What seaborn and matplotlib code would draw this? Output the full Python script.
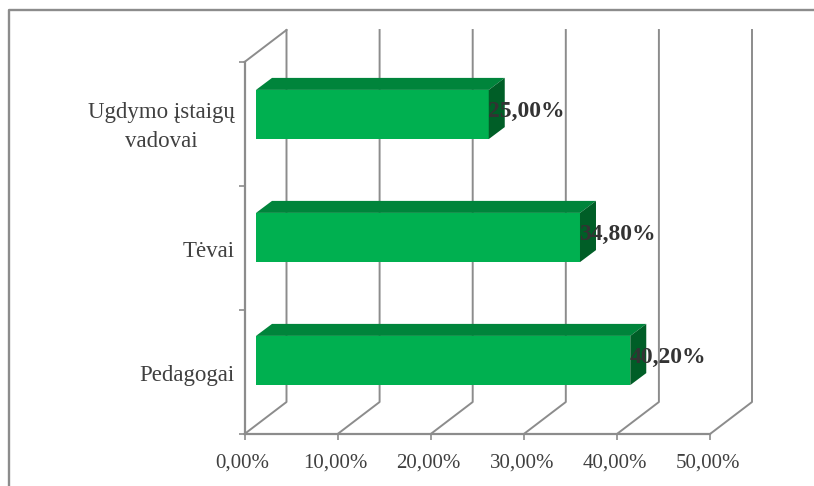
import matplotlib
matplotlib.use('Agg')
import matplotlib.pyplot as plt
import matplotlib.transforms as mtrans
import pandas as pd
import seaborn as sns
from matplotlib.patches import Polygon

categories = ['Ugdymo įstaigų\nvadovai', 'Tėvai', 'Pedagogai']
values = [25.0, 34.8, 40.2]
value_labels = ['25,00%', '34,80%', '40,20%']
x_ticks = [0, 10, 20, 30, 40, 50]
x_tick_labels = ['0,00%', '10,00%', '20,00%', '30,00%', '40,00%', '50,00%']

W, H = 814, 486
GREY = '#8c8c8c'
TEXT = '#404040'
# pseudo 3d offsets in pixels
DEPTH_X, DEPTH_Y = 42, 32
SIDE_X, SIDE_Y = 16, 12

plt.rcParams['font.family'] = ['Liberation Serif', 'DejaVu Serif']

def axes_box(left, top, right, bottom):
    return [left / W, 1 - bottom / H, (right - left) / W, (bottom - top) / H]

fig = plt.figure(figsize=(W / 100, H / 100), dpi=100)
# outer frame only shows on the top and left
fig.add_artist(plt.Line2D([9 / W, 9 / W, 1], [0, 1 - 10 / H, 1 - 10 / H], color=GREY, linewidth=1.7))

# front plane, holds the axis lines and labels
ax = fig.add_axes(axes_box(244.5, 62, 710, 434))
ax.patch.set_alpha(0)
ax.set_xlim(0, 50)
ax.set_ylim(len(categories), 0)
for s in ['top', 'right']:
    ax.spines[s].set_visible(False)
for s in ['left', 'bottom']:
    ax.spines[s].set_color(GREY)
    ax.spines[s].set_linewidth(1.6)
ax.set_xticks(x_ticks, x_tick_labels, fontsize=15, color=TEXT)
ax.set_yticks(range(len(categories) + 1), [''] * (len(categories) + 1))
ax.tick_params(axis='both', color=GREY, width=1.2, length=4)
ax.tick_params(axis='x', pad=10)
shift = mtrans.Affine2D().translate(-2, 0)
for lab in ax.get_xticklabels():
    lab.set_transform(lab.get_transform() + shift)
for i, c in enumerate(categories):
    ax.annotate(c, (0, i + 0.5), xytext=(-10, -3), textcoords='offset pixels', ha='right',
                multialignment='center', va='center', fontsize=16.5, color=TEXT, linespacing=1.5,
                annotation_clip=False)

# floor lines and back wall
for t in x_ticks:
    px, py = ax.transData.transform((t, len(categories)))
    bx, by = px + DEPTH_X, py + DEPTH_Y
    top = ax.transData.transform((t, 0))[1] + DEPTH_Y
    fig.add_artist(plt.Line2D([px / W, bx / W, bx / W], [py / H, by / H, top / H], color=GREY,
                              linewidth=1.4, zorder=-1))
px, py = ax.transData.transform((0, 0))
fig.add_artist(plt.Line2D([px / W, (px + DEPTH_X) / W], [py / H, (py + DEPTH_Y) / H], color=GREY,
                          linewidth=1.4, zorder=-1))

# bars sit a little behind the front plane
bar_ax = fig.add_axes(axes_box(256, 53, 721.5, 422))
bar_ax.axis('off')
df = pd.DataFrame({'group': categories, 'value': values})
sns.barplot(data=df, x='value', y='group', order=categories, color='#00b050', saturation=1,
            width=0.4, ax=bar_ax, zorder=3)
bar_ax.set_xlim(0, 50)
bar_ax.set_ylim(len(categories) - 0.5, -0.5)

for bar, label in zip(list(bar_ax.patches), value_labels):
    (x0, y0), (x1, y1) = bar_ax.transData.transform(bar.get_bbox().get_points())
    y0, y1 = min(y0, y1), max(y0, y1)
    top_face = [(x0, y1), (x1, y1), (x1 + SIDE_X, y1 + SIDE_Y), (x0 + SIDE_X, y1 + SIDE_Y)]
    side_face = [(x1, y0), (x1 + SIDE_X, y0 + SIDE_Y), (x1 + SIDE_X, y1 + SIDE_Y), (x1, y1)]
    fig.patches.append(Polygon(top_face, closed=True, transform=None, facecolor='#00843b', edgecolor='none', zorder=5))
    fig.patches.append(Polygon(side_face, closed=True, transform=None, facecolor='#005e27', edgecolor='none', zorder=5))
    fig.text((x1 - 1) / W, ((y0 + y1) / 2 + 3.5) / H, label, ha='left', va='center', fontsize=17,
             fontweight='bold', color='#333333', zorder=10)

fig.savefig('out.png', dpi=100)
